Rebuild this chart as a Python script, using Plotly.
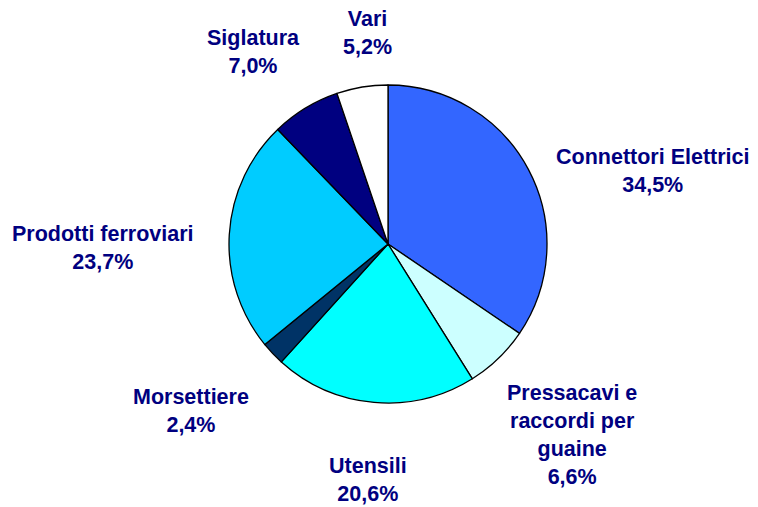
import plotly.graph_objects as go

categories = ["Connettori Elettrici", "Pressacavi e raccordi per guaine", "Utensili",
              "Morsettiere", "Prodotti ferroviari", "Siglatura", "Vari"]
display_labels = ["Connettori Elettrici", "Pressacavi e<br>raccordi per<br>guaine", "Utensili",
                  "Morsettiere", "Prodotti ferroviari", "Siglatura", "Vari"]
shares = [34.5, 6.6, 20.6, 2.4, 23.7, 7.0, 5.2]
colors = ["#3366FF", "#CCFFFF", "#00FFFF", "#003366", "#00CCFF", "#000080", "#FFFFFF"]

W, H = 758, 507
# label block centers (pixels)
label_pos = [(653, 171), (572, 435), (368, 480), (191, 411), (103, 248), (253, 52), (367, 33)]

fig = go.Figure(go.Pie(
    labels=categories,
    values=shares,
    marker=dict(colors=colors, line=dict(color="black", width=1.3)),
    sort=False,
    direction="clockwise",
    rotation=0,
    textinfo="none",
    hoverinfo="label+percent",
    showlegend=False,
    domain=dict(x=[(388 - 159) / W, (388 + 159) / W], y=[1 - 403 / H, 1 - 85 / H]),
))

annotations = []
for lab, val, (px, py) in zip(display_labels, shares, label_pos):
    txt = f"<b>{lab}<br>{val:.1f}%</b>".replace(".", ",")
    annotations.append(dict(
        x=px / W, y=1 - py / H, xref="paper", yref="paper",
        text=txt, showarrow=False, xanchor="center", yanchor="middle", align="center",
        font=dict(family="Liberation Sans, Arial, sans-serif", size=21.5, color="#000080"),
    ))

fig.update_layout(
    width=W, height=H,
    margin=dict(l=0, r=0, t=0, b=0),
    paper_bgcolor="white", plot_bgcolor="white",
    annotations=annotations,
)

fig.write_html("out.html", config={"displayModeBar": False},
               post_script="document.body.style.margin='0';")
